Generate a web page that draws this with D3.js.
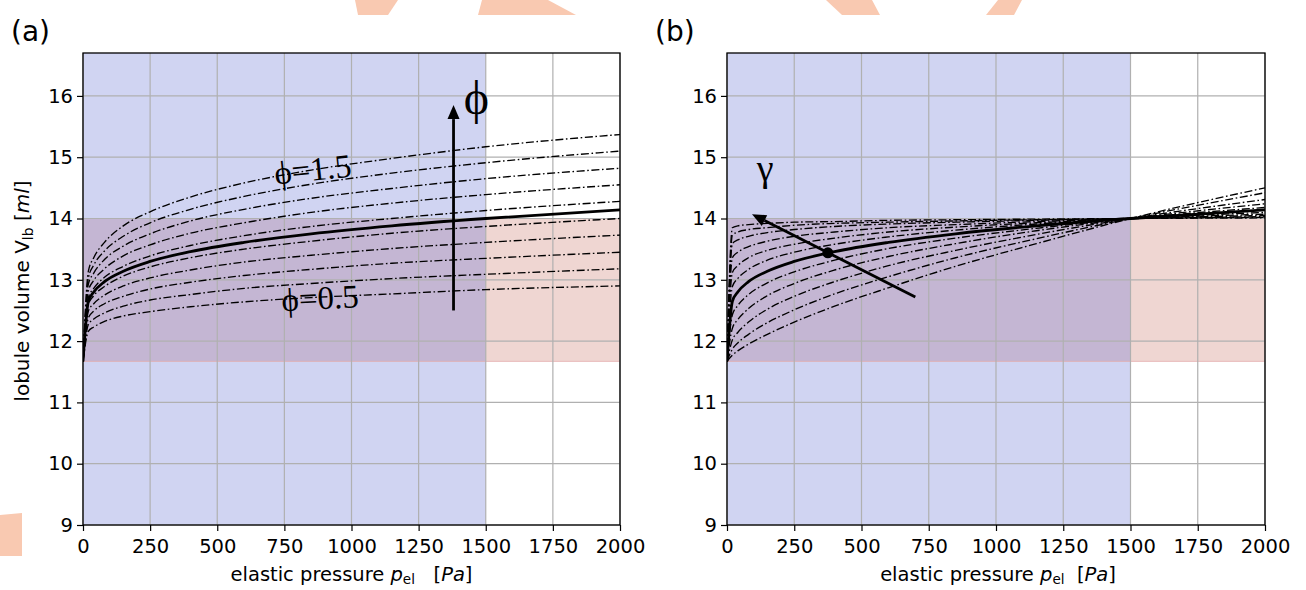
<!DOCTYPE html>
<html><head><meta charset="utf-8">
<script src="https://cdn.jsdelivr.net/npm/d3@7"></script>
<style>body{margin:0;background:#fff} svg{display:block}</style>
</head><body>
<svg id="c" width="1306" height="590"></svg>
<script>
// ---------- data ----------
const pressure = [0, 20, 40, 80, 150, 250, 400, 600, 850, 1150, 1500, 2000];
const xTicks = [0, 250, 500, 750, 1000, 1250, 1500, 1750, 2000];
const yTicks = [9, 10, 11, 12, 13, 14, 15, 16];
const volumeBand = [11.67, 14.0];
const pressureBand = [0, 1500];

// panel (a): phi = 0.5 ... 1.5 (dash-dot), phi = 1 (solid)
const phiSolid = [11.67, 12.65, 12.80, 12.97, 13.14, 13.30, 13.46, 13.61, 13.75, 13.88, 14.00, 14.14];
const phi050 = [11.67, 12.16, 12.23, 12.32, 12.41, 12.48, 12.56, 12.64, 12.71, 12.77, 12.84, 12.90];
const phi061 = [11.67, 12.27, 12.36, 12.46, 12.57, 12.67, 12.76, 12.86, 12.94, 13.02, 13.09, 13.18];
const phi072 = [11.67, 12.38, 12.49, 12.61, 12.73, 12.85, 12.96, 13.07, 13.17, 13.27, 13.35, 13.45];
const phi083 = [11.67, 12.49, 12.61, 12.75, 12.90, 13.03, 13.16, 13.29, 13.40, 13.51, 13.61, 13.73];
const phi094 = [11.67, 12.60, 12.74, 12.89, 13.06, 13.21, 13.36, 13.50, 13.63, 13.76, 13.87, 14.00];
const phi106 = [11.67, 12.71, 12.86, 13.04, 13.22, 13.39, 13.56, 13.72, 13.87, 14.00, 14.13, 14.28];
const phi117 = [11.67, 12.82, 12.99, 13.18, 13.39, 13.57, 13.76, 13.93, 14.10, 14.25, 14.39, 14.55];
const phi128 = [11.67, 12.93, 13.11, 13.33, 13.55, 13.75, 13.96, 14.15, 14.33, 14.49, 14.65, 14.82];
const phi139 = [11.67, 13.03, 13.24, 13.47, 13.71, 13.93, 14.15, 14.36, 14.56, 14.74, 14.91, 15.10];
const phi150 = [11.67, 13.14, 13.36, 13.61, 13.88, 14.11, 14.35, 14.58, 14.79, 14.98, 15.17, 15.37];
const phiCurves = [phi050, phi061, phi072, phi083, phi094, phi106, phi117, phi128, phi139, phi150];

// panel (b): several gamma values (dash-dot), reference (solid)
const gammaSolid = [11.67, 12.65, 12.80, 12.97, 13.14, 13.30, 13.46, 13.61, 13.75, 13.88, 14.00, 14.14];
const gamma1 = [11.67, 13.85, 13.88, 13.90, 13.92, 13.94, 13.95, 13.97, 13.98, 13.99, 14.00, 14.01];
const gamma2 = [11.67, 13.73, 13.78, 13.82, 13.85, 13.89, 13.92, 13.94, 13.96, 13.98, 14.00, 14.02];
const gamma3 = [11.67, 13.59, 13.65, 13.71, 13.77, 13.82, 13.87, 13.91, 13.94, 13.97, 14.00, 14.03];
const gamma4 = [11.67, 13.36, 13.45, 13.54, 13.63, 13.71, 13.78, 13.85, 13.90, 13.95, 14.00, 14.05];
const gamma5 = [11.67, 13.12, 13.23, 13.36, 13.48, 13.58, 13.68, 13.78, 13.86, 13.93, 14.00, 14.07];
const gamma6 = [11.67, 12.89, 13.02, 13.17, 13.32, 13.45, 13.58, 13.70, 13.81, 13.91, 14.00, 14.10];
const gamma7 = [11.67, 12.43, 12.58, 12.76, 12.95, 13.13, 13.32, 13.51, 13.68, 13.84, 14.00, 14.18];
const gamma8 = [11.67, 12.21, 12.35, 12.53, 12.74, 12.94, 13.16, 13.38, 13.59, 13.80, 14.00, 14.24];
const gamma9 = [11.67, 12.02, 12.14, 12.31, 12.52, 12.73, 12.97, 13.23, 13.48, 13.74, 14.00, 14.31];
const gamma10 = [11.67, 11.87, 11.97, 12.11, 12.30, 12.51, 12.77, 13.05, 13.36, 13.67, 14.00, 14.42];
const gamma11 = [11.67, 11.77, 11.84, 11.95, 12.11, 12.31, 12.57, 12.87, 13.22, 13.59, 14.00, 14.50];
const gammaCurves = [gamma1, gamma2, gamma3, gamma4, gamma5, gamma6, gamma7, gamma8, gamma9, gamma10, gamma11];

// annotations (data coordinates)
const phiArrow = {p: 1380, from: 12.5, to: 15.85};
const gammaArrow = {p0: 700, v0: 12.72, p1: 93, v1: 14.07};
const gammaDot = {p: 375, v: 13.44};

// ---------- drawing ----------
const svg = d3.select('#c');
const FONT = 'DejaVu Sans, sans-serif';
const SERIF = 'Liberation Serif, DejaVu Serif, serif';
const C_BLUE = '#d0d4f2', C_OVER = '#c4b6d3', C_PINK = '#efd6d2';

// watermark fragments
const wm = [
  [[355,0],[398,0],[388,15],[358,15]],
  [[482,0],[548,0],[576,15],[478,15]],
  [[826,0],[872,0],[880,15],[842,15]],
  [[998,0],[1022,0],[1014,15],[986,15]],
  [[0,515],[22,513],[22,556],[0,556]]
];
svg.selectAll('polygon.wm').data(wm).join('polygon').attr('class','wm')
  .attr('points', d => d.map(p => p.join(',')).join(' ')).attr('fill', '#f9c9b1');

function panel(left, right, solid, dashed, label, id) {
  const x = d3.scaleLinear().domain([0, 2000]).range([left, right]);
  const y = d3.scaleLinear().domain([9, 16.7]).range([525, 53]);
  const g = svg.append('g');
  g.append('clipPath').attr('id', 'clip' + id).append('rect')
    .attr('x', left).attr('y', 53).attr('width', right - left).attr('height', 525 - 53);

  // regions
  g.append('rect').attr('x', x(pressureBand[0])).attr('width', x(pressureBand[1]) - x(pressureBand[0]))
    .attr('y', 53).attr('height', 525 - 53).attr('fill', C_BLUE);
  g.append('rect').attr('x', x(pressureBand[0])).attr('width', x(pressureBand[1]) - x(pressureBand[0]))
    .attr('y', y(volumeBand[1])).attr('height', y(volumeBand[0]) - y(volumeBand[1])).attr('fill', C_OVER);
  g.append('rect').attr('x', x(pressureBand[1])).attr('width', x(2000) - x(pressureBand[1]))
    .attr('y', y(volumeBand[1])).attr('height', y(volumeBand[0]) - y(volumeBand[1])).attr('fill', C_PINK);
  g.append('line').attr('x1', left).attr('x2', right).attr('y1', y(volumeBand[0])).attr('y2', y(volumeBand[0]))
    .attr('stroke', '#e3a9a9').attr('stroke-width', 0.8);

  // grid
  g.selectAll('line.gx').data(xTicks).join('line').attr('class','gx')
    .attr('x1', d => x(d)).attr('x2', d => x(d)).attr('y1', 53).attr('y2', 525)
    .attr('stroke', '#b0b0b0').attr('stroke-width', 1.2);
  g.selectAll('line.gy').data(yTicks).join('line').attr('class','gy')
    .attr('y1', d => y(d)).attr('y2', d => y(d)).attr('x1', left).attr('x2', right)
    .attr('stroke', '#b0b0b0').attr('stroke-width', 1.2);

  // curves
  const line = d3.line().x((d, i) => x(pressure[i])).y(d => y(d)).curve(d3.curveMonotoneX);
  const cg = g.append('g').attr('clip-path', `url(#clip${id})`);
  cg.selectAll('path.dd').data(dashed).join('path').attr('class','dd')
    .attr('d', line).attr('fill', 'none').attr('stroke', '#000').attr('stroke-width', 1.35)
    .attr('stroke-dasharray', '8,2.6,1.6,2.6');
  cg.append('path').attr('d', line(solid)).attr('fill', 'none').attr('stroke', '#000').attr('stroke-width', 2.8);

  // frame
  g.append('rect').attr('x', left).attr('y', 53).attr('width', right - left).attr('height', 525 - 53)
    .attr('fill', 'none').attr('stroke', '#000').attr('stroke-width', 1.3);

  // axes
  const ax = g.append('g').attr('transform', 'translate(0,525)')
    .call(d3.axisBottom(x).tickValues(xTicks).tickSize(6).tickPadding(8).tickFormat(d3.format('d')));
  const ay = g.append('g').attr('transform', `translate(${left},0)`)
    .call(d3.axisLeft(y).tickValues(yTicks).tickSize(6).tickPadding(4).tickFormat(d3.format('d')));
  [ax, ay].forEach(a => {
    a.select('.domain').remove();
    a.selectAll('line').attr('stroke', '#000').attr('stroke-width', 1.2);
    a.selectAll('text').attr('font-family', FONT).attr('font-size', 19.5).attr('fill', '#000');
  });

  // x label
  const xl = g.append('text').attr('x', (left + right) / 2 + (id === 'a' ? 0 : 2)).attr('y', 581).attr('text-anchor', 'middle')
    .attr('font-family', FONT).attr('font-size', 19.5).attr('fill', '#000');
  xl.append('tspan').text('elastic pressure ');
  xl.append('tspan').attr('font-style', 'italic').text('p');
  xl.append('tspan').attr('font-size', 13.5).attr('dy', 3).text('el');
  xl.append('tspan').attr('dy', -3).text(id === 'a' ? '\u00a0\u00a0\u00a0[' : '\u00a0\u00a0[');
  xl.append('tspan').attr('font-style', 'italic').text('Pa');
  xl.append('tspan').text(']');

  // panel label
  g.append('text').attr('x', left - 72).attr('y', 41).attr('font-family', FONT).attr('font-size', 28)
    .attr('fill', '#000').text(label);
  return {x, y, g};
}

const A = panel(83, 620, phiSolid, phiCurves, '(a)', 'a');
const B = panel(727, 1265, gammaSolid, gammaCurves, '(b)', 'b');

// y label (left panel only)
const yl = svg.append('text').attr('transform', 'translate(29,291) rotate(-90)').attr('text-anchor', 'middle')
  .attr('font-family', FONT).attr('font-size', 20).attr('fill', '#000');
yl.append('tspan').text('lobule volume V');
yl.append('tspan').attr('font-size', 14).attr('dy', 4).text('lb');
yl.append('tspan').attr('dy', -4).text(' [');
yl.append('tspan').attr('font-style', 'italic').text('ml');
yl.append('tspan').text(']');

// arrows
function arrow(g, x0, y0, x1, y1) {
  const dx = x1 - x0, dy = y1 - y0, L = Math.hypot(dx, dy);
  const ux = dx / L, uy = dy / L, hl = 14, hw = 6;
  const bx = x1 - ux * hl, by = y1 - uy * hl;
  g.append('line').attr('x1', x0).attr('y1', y0).attr('x2', bx).attr('y2', by)
    .attr('stroke', '#000').attr('stroke-width', 2.8);
  g.append('polygon').attr('points',
    [[x1, y1], [bx - uy * hw, by + ux * hw], [bx + uy * hw, by - ux * hw]].map(p => p.join(',')).join(' '))
    .attr('fill', '#000');
}
arrow(A.g, A.x(phiArrow.p), A.y(phiArrow.from), A.x(phiArrow.p), A.y(phiArrow.to));
arrow(B.g, B.x(gammaArrow.p0), B.y(gammaArrow.v0), B.x(gammaArrow.p1), B.y(gammaArrow.v1));
B.g.append('circle').attr('cx', B.x(gammaDot.p)).attr('cy', B.y(gammaDot.v)).attr('r', 5.5).attr('fill', '#000');

// annotation text
function phiLabel(cx, cy, rot, value) {
  const t = A.g.append('text').attr('transform', `translate(${cx},${cy}) rotate(${rot})`).attr('text-anchor', 'middle')
    .attr('font-family', SERIF).attr('font-size', 33).attr('fill', '#000');
  t.append('tspan').text('\u03d5');
  t.append('tspan').text('=' + value);
}
phiLabel(A.x(860), A.y(14.62), -6, '1.5');
phiLabel(A.x(885), A.y(12.52), -3, '0.5');
A.g.append('text').attr('x', A.x(1465)).attr('y', A.y(15.7)).attr('text-anchor', 'middle')
  .attr('font-family', SERIF).attr('font-size', 48).attr('fill', '#000').text('\u03d5');
B.g.append('text').attr('x', B.x(142)).attr('y', B.y(14.62)).attr('text-anchor', 'middle')
  .attr('font-family', SERIF).attr('font-size', 38).attr('fill', '#000').text('\u03b3');
</script>
</body></html>
